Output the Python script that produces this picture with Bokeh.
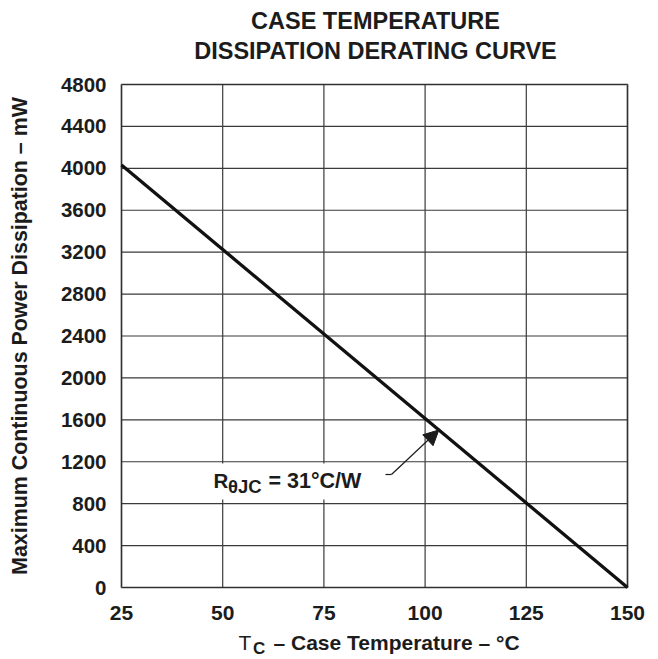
import numpy as np
from bokeh.plotting import figure
from bokeh.models import Range1d, FixedTicker, Label, Arrow, NormalHead, BoxAnnotation, LinearAxis
from bokeh.embed import file_html
from bokeh.resources import INLINE

# ---------------- data ----------------
case_temp_c = [25, 150]           # T_C (°C)
power_mw = [4032, 0]              # max continuous power dissipation (mW)
x_ticks = [25, 50, 75, 100, 125, 150]
y_ticks = [0, 400, 800, 1200, 1600, 2000, 2400, 2800, 3200, 3600, 4000, 4400, 4800]
title_lines = ["CASE TEMPERATURE", "DISSIPATION DERATING CURVE"]
y_label = "Maximum Continuous Power Dissipation – mW"
x_label_main = "T"
x_label_sub = "C"
x_label_rest = "– Case Temperature – °C"
annot_main = "R"
annot_sub = "θJC"
annot_rest = "= 31°C/W"
annot_tip_temp = 103.4

# ---------------- layout ----------------
W, H = 658, 659
FL, FR, FT, FB = 121, 627, 84, 587       # pixel box of the chart area
X0, X1 = x_ticks[0], x_ticks[-1]
Y0, Y1 = y_ticks[0], y_ticks[-1]
FONT = "Liberation Sans"
INK = "#1c1c1c"
BFIX = 8   # label baseline correction (px)

sx = (X1 - X0) / (FR - FL)
sy = (Y1 - Y0) / (FB - FT)
XL, XR = X0 - FL * sx, X1 + (W - FR) * sx
YT, YB = Y1 + FT * sy, Y0 - (H - FB) * sy


def to_data(px, py):
    return (X0 + (px - FL) * sx, Y0 + (FB - py) * sy)


def text_at(px, py_baseline, text, size, bold=True, align="left"):
    x, y = to_data(px, py_baseline - BFIX)
    p.add_layout(Label(x=x, y=y, text=text, text_font=FONT,
                       text_font_style="bold" if bold else "normal",
                       text_font_size=size, text_color=INK, text_align=align,
                       text_baseline="alphabetic"))


p = figure(width=W, height=H, x_range=Range1d(XL, XR), y_range=Range1d(YB, YT),
           output_backend="svg", toolbar_location=None,
           x_axis_location=None, y_axis_location=None,
           min_border=0, min_border_left=0, min_border_right=0,
           min_border_top=0, min_border_bottom=0)
p.title.visible = False
p.background_fill_color = "white"
p.border_fill_color = "white"
p.outline_line_color = None
p.xgrid.visible = False
p.ygrid.visible = False

xaxis = LinearAxis(fixed_location=Y0, ticker=FixedTicker(ticks=x_ticks), bounds=(X0, X1))
yaxis = LinearAxis(fixed_location=X0, ticker=FixedTicker(ticks=y_ticks), bounds=(Y0, Y1))
for ax in (xaxis, yaxis):
    ax.axis_line_color = None
    ax.major_tick_line_color = None
    ax.minor_tick_line_color = None
    ax.major_label_text_font = FONT
    ax.major_label_text_font_style = "bold"
    ax.major_label_text_color = INK
xaxis.major_label_text_font_size = "21px"
yaxis.major_label_text_font_size = "20.5px"
xaxis.major_label_standoff = 12
yaxis.major_label_standoff = 9
yaxis.axis_label = y_label
yaxis.axis_label_text_font = FONT
yaxis.axis_label_text_font_style = "bold"
yaxis.axis_label_text_font_size = "21.4px"
yaxis.axis_label_text_color = INK
yaxis.axis_label_standoff = 26
p.add_layout(xaxis, "below")
p.add_layout(yaxis, "left")

# grid lines at the tick values
p.segment(x0=x_ticks, y0=[Y0] * len(x_ticks), x1=x_ticks, y1=[Y1] * len(x_ticks),
          line_color="#3a3a3a", line_width=1.2)
p.segment(x0=[X0] * len(y_ticks), y0=y_ticks, x1=[X1] * len(y_ticks), y1=y_ticks,
          line_color="#3a3a3a", line_width=1.2)

# derating line
p.line(case_temp_c, power_mw, line_color="#111111", line_width=3.3)

# chart border
p.add_layout(BoxAnnotation(left=X0, right=X1, bottom=Y0, top=Y1, fill_color=None,
                           fill_alpha=0, line_color=INK, line_width=2.5, level="annotation"))

# white backing behind annotation text (gridlines are broken there)
bl, bt = to_data(208, 463)
br, bb = to_data(372, 499)
p.add_layout(BoxAnnotation(left=bl, right=br, bottom=bb, top=bt,
                           fill_color="white", fill_alpha=1.0, line_color=None,
                           level="annotation"))

# annotation text R_θJC = 31°C/W
text_at(213, 488, annot_main, "20.5px")
text_at(227.5, 493.5, annot_sub, "18.5px")
text_at(268, 488, annot_rest, "21.5px")

# leader + arrow to the curve
tip_y = float(np.interp(annot_tip_temp, case_temp_c, power_mw))
tx0, ty0 = to_data(385, 474)
tx1, _ = to_data(391, 474)
p.add_layout(Arrow(end=None, x_start=tx0, y_start=ty0, x_end=tx1, y_end=ty0,
                   line_color=INK, line_width=1.2))
p.add_layout(Arrow(end=NormalHead(size=15, fill_color=INK, line_color=INK, line_width=1),
                   x_start=tx1, y_start=ty0, x_end=annot_tip_temp, y_end=tip_y,
                   line_color=INK, line_width=1.2))

# titles
text_at(375, 28.3, title_lines[0], "23.5px", align="center")
text_at(375, 58.3, title_lines[1], "23.5px", align="center")

# x-axis label with subscript
text_at(238, 650, x_label_main, "21px", bold=False)
text_at(252.5, 656, x_label_sub, "17px")
text_at(273, 650, x_label_rest, "21px")

open("out.html", "w").write(file_html(p, INLINE))
